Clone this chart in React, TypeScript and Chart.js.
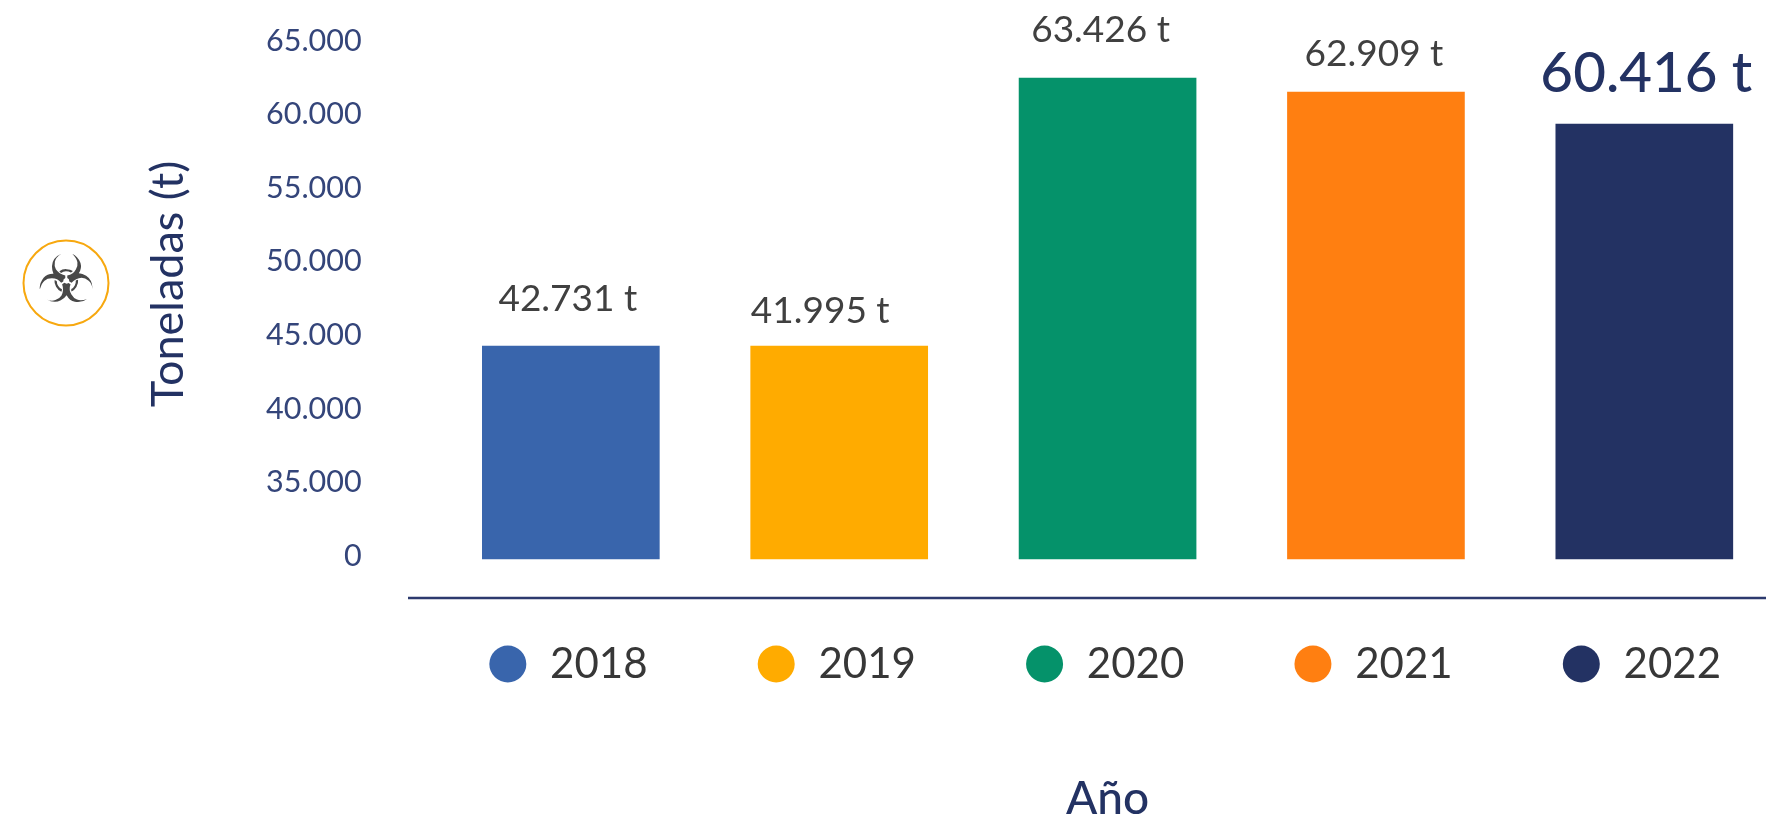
import React, { useEffect, useRef } from "react";
import { Chart, registerables } from "chart.js";

Chart.register(...registerables);

// Data
const categories = ["2018", "2019", "2020", "2021", "2022"];
// Bar heights as they sit against the printed axis (0 is a broken-axis tick in the original)
const barValues = [44266, 44266, 62472, 61522, 59348];
const printedValues = ["42.731 t", "41.995 t", "63.426 t", "62.909 t", "60.416 t"];
const barColors = ["#3965ac", "#ffab00", "#05926a", "#ff7f11", "#233263"];
const tickValues = [30000, 35000, 40000, 45000, 50000, 55000, 60000, 65000];
const brokenTick = 30000;

const FONT = "Lato, sans-serif";
const NAVY = "#233263";
const SHIFT = 50; // canvas sits this far above the page top

// Style: label offsets [dx, gap above bar], big label for the last year
const labelNudge: [number, number][] = [
  [-3, 47],
  [-19, 35],
  [-7, 48],
  [-2, 38],
  [2, 50],
];

const annotations = {
  id: "annotations",
  afterDraw(chart: any) {
    const { ctx, chartArea, scales } = chart;
    const meta = chart.getDatasetMeta(0);
    ctx.save();

    // axis rule
    ctx.strokeStyle = "#2c3a6e";
    ctx.lineWidth = 2.5;
    ctx.beginPath();
    ctx.moveTo(408, chartArea.bottom);
    ctx.lineTo(chart.width, chartArea.bottom);
    ctx.stroke();

    // value labels
    ctx.textAlign = "center";
    ctx.textBaseline = "middle";
    meta.data.forEach((bar: any, i: number) => {
      const big = i === printedValues.length - 1;
      ctx.font = big ? `500 56.5px ${FONT}` : `400 37px ${FONT}`;
      ctx.fillStyle = big ? NAVY : "#404040";
      const [dx, gap] = labelNudge[i];
      ctx.fillText(printedValues[i], bar.x + dx, bar.y - gap);
    });

    // legend
    categories.forEach((c, i) => {
      const x = scales.x.getPixelForValue(i);
      const y = 664 + SHIFT;
      ctx.fillStyle = barColors[i];
      ctx.beginPath();
      ctx.arc(x - 63, y, 18.5, 0, Math.PI * 2);
      ctx.fill();
      ctx.fillStyle = "#373737";
      ctx.font = `400 42px ${FONT}`;
      ctx.fillText(c, x + 28, y);
    });

    // icon
    ctx.strokeStyle = "#f7a80f";
    ctx.lineWidth = 2;
    ctx.beginPath();
    ctx.arc(66, 283 + SHIFT, 42.5, 0, Math.PI * 2);
    ctx.stroke();
    ctx.fillStyle = "#484848";
    ctx.font = "bold 66px 'DejaVu Sans'";
    ctx.fillText("\u2623", 66, 285 + SHIFT);
    ctx.restore();
  },
};

export default function App() {
  const ref = useRef<HTMLCanvasElement>(null);
  useEffect(() => {
    const chart = new Chart(ref.current!, {
      type: "bar",
      data: {
        labels: categories,
        datasets: [
          {
            label: "Toneladas",
            data: barValues,
            backgroundColor: barColors,
            base: 29796,
            barThickness: 177,
          },
        ],
      },
      plugins: [annotations],
      options: {
        animation: false,
        responsive: false,
        layout: { padding: { top: 20, right: 0.5, bottom: 0, left: 141 } },
        plugins: { legend: { display: false }, tooltip: { enabled: false } },
        scales: {
          x: {
            grid: { display: false },
            border: { display: false },
            ticks: { display: false },
            title: {
              display: true,
              text: "Año",
              color: NAVY,
              font: { family: FONT, size: 46, weight: "500", lineHeight: 1 },
              padding: { top: 170, bottom: 0 },
            },
          },
          y: {
            min: 27147,
            max: 69810,
            grid: { display: true, drawOnChartArea: false, drawTicks: true, tickLength: 75, tickColor: "transparent" },
            border: { display: false },
            afterBuildTicks(scale: any) {
              scale.ticks = tickValues.map((value) => ({ value }));
            },
            ticks: {
              autoSkip: false,
              padding: 0,
              color: "#34457a",
              font: { family: FONT, size: 30.5 },
              callback(v: any) {
                if (v === brokenTick) return "0";
                return String(v).replace(/\B(?=(\d{3})+$)/g, ".");
              },
            },
            title: {
              display: true,
              text: "Toneladas (t)",
              color: NAVY,
              font: { family: FONT, size: 45, weight: "400" },
              padding: { top: 0, bottom: 71 },
            },
          },
        },
      },
    } as any);
    return () => chart.destroy();
  }, []);
  return (
    <div style={{ position: "fixed", left: 0, top: 0, width: 1766, height: 822, overflow: "hidden" }}>
      <canvas
        ref={ref}
        width={1779}
        height={822 + SHIFT}
        style={{ position: "absolute", left: 0, top: -SHIFT, display: "block" }}
      />
    </div>
  );
}
